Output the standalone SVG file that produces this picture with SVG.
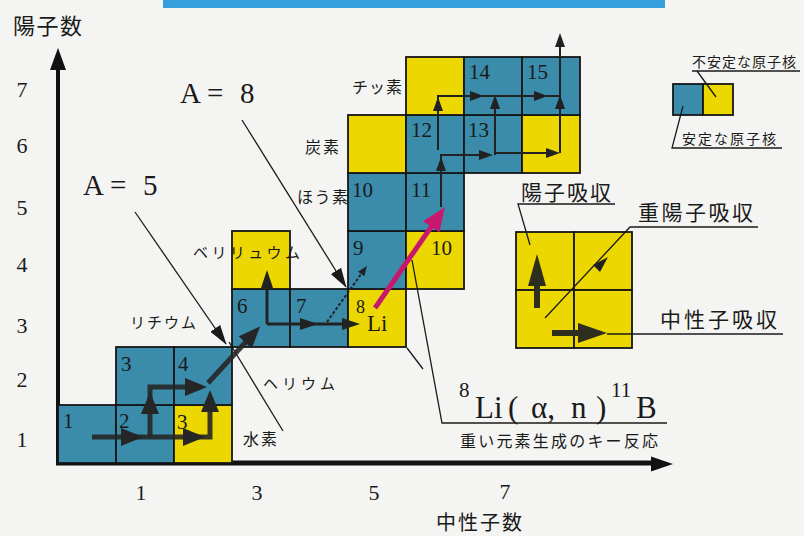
<svg xmlns="http://www.w3.org/2000/svg" width="804" height="536" viewBox="0 0 804 536">
<style>
.bg{fill:#f4f5f2}
.st{fill:#3b8bab;stroke:#161616;stroke-width:1.8}
.un{fill:#ecd800;stroke:#161616;stroke-width:1.8}
.num{font-family:"Liberation Serif",serif;font-size:21px;fill:#1a1a1a}
.f17{font-size:18px}
.f23{font-size:23px}
.f31{font-size:31px}
.tick{font-family:"Liberation Serif",serif;font-size:22px;fill:#1a1a1a}
.jp{font-family:"Noto Sans CJK JP","Noto Sans",sans-serif;fill:#1a1a1a}
.big{font-family:"Liberation Serif",serif;font-size:29px;fill:#1a1a1a}
.thin{fill:none;stroke:#1a1a1a;stroke-width:1.3}
.heavy{fill:none;stroke:#262626;stroke-width:5;stroke-opacity:0.9}
.med{fill:none;stroke:#222;stroke-width:3}
.sm{fill:none;stroke:#222;stroke-width:2}
</style>
<defs>
<marker id="hb" markerUnits="userSpaceOnUse" viewBox="0 0 22 18" markerWidth="22" markerHeight="18" refX="13" refY="9" orient="auto"><path d="M0,0 L22,9 L0,18 z" fill="#262626"/></marker>
<marker id="hm" markerUnits="userSpaceOnUse" viewBox="0 0 18 14" markerWidth="18" markerHeight="14" refX="10" refY="7" orient="auto"><path d="M0,1 L18,7 L0,13 z" fill="#222"/></marker>
<marker id="ht" markerUnits="userSpaceOnUse" viewBox="0 0 14 10" markerWidth="14" markerHeight="10" refX="7" refY="5" orient="auto"><path d="M0,0 L14,5 L0,10 z" fill="#222"/></marker>
<marker id="hs" markerUnits="userSpaceOnUse" viewBox="0 0 10 8" markerWidth="10" markerHeight="8" refX="5" refY="4" orient="auto"><path d="M0,0 L10,4 L0,8 z" fill="#222"/></marker>
<marker id="hl" markerUnits="userSpaceOnUse" viewBox="0 0 20 12" markerWidth="20" markerHeight="12" refX="19" refY="6" orient="auto"><path d="M0,0 L20,6 L0,12 z" fill="#1a1a1a"/></marker>
<marker id="hp" markerUnits="userSpaceOnUse" viewBox="0 0 24 20" markerWidth="24" markerHeight="20" refX="12" refY="10" orient="auto"><path d="M0,0 L24,10 L0,20 z" fill="#c8186e"/></marker>
</defs>
<rect class="bg" x="0" y="0" width="804" height="536"/>
<rect x="163" y="0" width="502" height="8" fill="#35a0dc"/>

<!-- axes -->
<g id="axes">
<line x1="58" y1="465" x2="58" y2="68" stroke="#111" stroke-width="4"/>
<polygon points="58,48 66,70 50,70" fill="#111"/>
<line x1="56" y1="463" x2="652" y2="463" stroke="#111" stroke-width="5"/>
<polygon points="673,464 651,456.5 651,471.5" fill="#111"/>
<text class="jp" x="13" y="34" font-size="22" letter-spacing="1.5">陽子数</text>
<text class="jp" x="436" y="530" font-size="20" letter-spacing="2">中性子数</text>
<g class="tick" text-anchor="middle">
<text x="22" y="97">7</text><text x="22" y="153">6</text><text x="22" y="215">5</text><text x="22" y="272">4</text><text x="22" y="333">3</text><text x="22" y="387">2</text><text x="22" y="447">1</text>
<text x="141" y="500">1</text><text x="257" y="500">3</text><text x="374" y="500">5</text><text x="505" y="499">7</text>
</g>
</g>

<!-- nuclei -->
<g id="n-H1"><rect class="st" x="58" y="405" width="58" height="58"/><text class="num" x="63" y="428">1</text></g>
<g id="n-H2"><rect class="st" x="116" y="405" width="58" height="58"/><text class="num" x="119" y="428">2</text></g>
<g id="n-H3"><rect class="un" x="174" y="405" width="58" height="58"/><text class="num" x="177" y="429">3</text></g>
<g id="n-He3"><rect class="st" x="116" y="347" width="58" height="58"/><text class="num" x="121" y="371">3</text></g>
<g id="n-He4"><rect class="st" x="174" y="347" width="58" height="58"/><text class="num" x="178" y="371">4</text></g>
<g id="n-Li6"><rect class="st" x="232" y="289" width="58" height="58"/><text class="num" x="237" y="313">6</text></g>
<g id="n-Li7"><rect class="st" x="290" y="289" width="58" height="58"/><text class="num" x="296" y="313">7</text></g>
<g id="n-Li8"><rect class="un" x="348" y="289" width="58" height="58"/><text class="num f17" x="356" y="313">8</text><text class="num f23" x="367" y="331">Li</text></g>
<g id="n-Be7"><rect class="un" x="232" y="231" width="58" height="58"/></g>
<g id="n-Be9"><rect class="st" x="348" y="231" width="58" height="58"/><text class="num" x="353" y="255">9</text></g>
<g id="n-Be10"><rect class="un" x="406" y="231" width="58" height="58"/><text class="num" x="431" y="255">10</text></g>
<g id="n-B10"><rect class="st" x="348" y="173" width="58" height="58"/><text class="num" x="352" y="197">10</text></g>
<g id="n-B11"><rect class="st" x="406" y="173" width="58" height="58"/><text class="num" x="411" y="197">11</text></g>
<g id="n-C11"><rect class="un" x="348" y="115" width="58" height="58"/></g>
<g id="n-C12"><rect class="st" x="406" y="115" width="58" height="58"/><text class="num" x="411" y="137">12</text></g>
<g id="n-C13"><rect class="st" x="464" y="115" width="58" height="58"/><text class="num" x="468" y="137">13</text></g>
<g id="n-C14"><rect class="un" x="522" y="115" width="58" height="58"/></g>
<g id="n-N13"><rect class="un" x="406" y="57" width="58" height="58"/></g>
<g id="n-N14"><rect class="st" x="464" y="57" width="58" height="58"/><text class="num" x="469" y="79">14</text></g>
<g id="n-N15"><rect class="st" x="522" y="57" width="58" height="58"/><text class="num" x="527" y="79">15</text></g>

<!-- element labels -->
<g id="labels" class="jp">
<text x="130" y="328" font-size="15" letter-spacing="2">リチウム</text>
<text x="193" y="258" font-size="15" letter-spacing="3.4">ベリリュウム</text>
<text x="263" y="389" font-size="15" letter-spacing="4">ヘリウム</text>
<text x="243" y="445" font-size="16" letter-spacing="2">水素</text>
<text x="297" y="203" font-size="16" letter-spacing="1.5">ほう素</text>
<text x="305" y="153" font-size="16" letter-spacing="2">炭素</text>
<text x="352" y="93" font-size="16" letter-spacing="1">チッ素</text>
</g>
<g id="mass-labels" class="big">
<text y="195"><tspan x="83">A</tspan><tspan x="110">=</tspan><tspan x="143">5</tspan></text>
<text y="103"><tspan x="180">A</tspan><tspan x="207">=</tspan><tspan x="240">8</tspan></text>
</g>

<!-- connectors -->
<g id="connectors">
<path class="thin" d="M135,212 L226,344" marker-end="url(#hl)"/>
<path class="thin" d="M242,120 L346,287" marker-end="url(#hl)"/>
<path class="thin" d="M229,342 L283,431"/>
<path class="thin" d="M412,260 L442,423 H667"/>
<path class="thin" d="M407,348 L423,369"/>
<path class="heavy" d="M92,437 H134" marker-end="url(#hb)"/>
<path class="heavy" d="M134,437 H196" marker-end="url(#hb)"/>
<path class="heavy" d="M196,437 H210 V399" marker-end="url(#hb)"/>
<path class="heavy" d="M150,437 V401" marker-end="url(#hb)"/>
<path class="heavy" d="M150,401 V387 H198" marker-end="url(#hb)"/>
<path class="heavy" d="M208,383 L254,333" marker-end="url(#hb)" stroke-width="4"/>
<path class="med" d="M267,324 V278" marker-end="url(#hm)"/>
<path class="med" d="M267,324 H310" marker-end="url(#hm)"/>
<path class="med" d="M310,324 H352" marker-end="url(#hm)"/>
<path class="sm" d="M327,322 L364,270" stroke-width="1.2" stroke-dasharray="3,2" marker-end="url(#hs)"/>
<path class="sm" d="M441,207 V164" marker-end="url(#ht)"/>
<path class="sm" d="M441,164 V155 H486" marker-end="url(#ht)"/>
<path class="sm" d="M438,150 V104" marker-end="url(#ht)"/>
<path class="sm" d="M438,104 V96 H477" marker-end="url(#ht)"/>
<path class="sm" d="M477,96 H541" marker-end="url(#ht)"/>
<path class="sm" d="M541,96 H560"/>
<path class="sm" d="M495,155 V102" marker-end="url(#ht)"/>
<path class="sm" d="M495,153 H553" marker-end="url(#ht)"/>
<path class="sm" d="M560,153 V102" marker-end="url(#ht)"/>
<path class="sm" d="M560,102 V40" marker-end="url(#ht)"/>
<path d="M375,308 L438,217" fill="none" stroke="#c8186e" stroke-width="5" marker-end="url(#hp)"/>
</g>

<g id="reaction">
<text class="num" x="459" y="397">8</text>
<text class="num f31" y="418"><tspan x="475">Li</tspan><tspan x="508">(</tspan><tspan x="531">α,</tspan><tspan x="571">n</tspan><tspan x="596">)</tspan></text>
<text class="num" x="611" y="397">11</text>
<text class="num f31" x="636" y="418">B</text>
<text class="jp" x="460" y="447" font-size="16" letter-spacing="2.2">重い元素生成のキー反応</text>
</g>

<g id="legend">
<rect class="st" x="673" y="84" width="30" height="31"/>
<rect class="un" x="703" y="84" width="30" height="31"/>
<text class="jp" x="692" y="67" font-size="14" letter-spacing="1">不安定な原子核</text>
<path class="thin" d="M800,71 H692 M697,71 L716,97"/>
<text class="jp" x="682" y="144" font-size="14" letter-spacing="2">安定な原子核</text>
<path class="thin" d="M782,148 H672 L683,106"/>
</g>

<g id="reactions-key">
<rect class="un" x="516" y="232" width="58" height="58"/>
<rect class="un" x="574" y="232" width="58" height="58"/>
<rect class="un" x="516" y="290" width="58" height="58"/>
<rect class="un" x="574" y="290" width="58" height="58"/>
<text class="jp" x="521" y="200" font-size="21" letter-spacing="2">陽子吸収</text>
<path class="thin" d="M615,204 H518 L530,245"/>
<text class="jp" x="638" y="220" font-size="21" letter-spacing="2.5">重陽子吸収</text>
<path class="thin" d="M758,227 H630 L545,318"/>
<polygon points="608,257 600,272 593,265" fill="#222"/>
<text class="jp" x="660" y="327" font-size="21" letter-spacing="3">中性子吸収</text>
<path class="thin" d="M607,334 H783"/>
<rect x="534" y="284" width="6" height="24" fill="#2e2e1e"/>
<polygon points="537,254 546,286 528,286" fill="#2e2e1e"/>
<rect x="552" y="330" width="30" height="6" fill="#2e2e1e"/>
<polygon points="607,333 578,323 578,343" fill="#2e2e1e"/>
</g>
</svg>
